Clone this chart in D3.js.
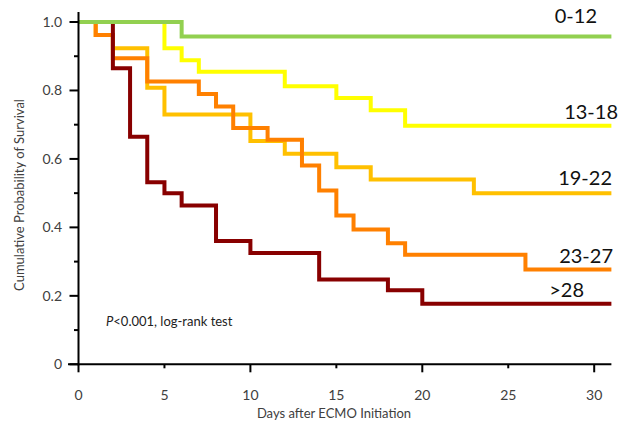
<!DOCTYPE html>
<html>
<head>
<meta charset="utf-8">
<script src="https://cdn.jsdelivr.net/npm/d3@7"></script>
<style>
  body { margin: 0; background: #fff; }
  text { font-family: Lato, "Open Sans", sans-serif; }
</style>
</head>
<body>
<script>
// survival curves (day of each step, survival after step)
var groups = ['0-12', '13-18', '19-22', '23-27', '>28'];
var colors = ['#92d050', '#ffff00', '#ffc000', '#ff8000', '#880000'];

var days0_12 = [0, 6];
var surv0_12 = [1, 0.958];

var days13_18 = [0, 5, 6, 7, 12, 15, 17, 19];
var surv13_18 = [1, 0.923, 0.888, 0.855, 0.8125, 0.778, 0.742, 0.697];

var days19_22 = [0, 1, 2, 4, 5, 10, 12, 15, 17, 23];
var surv19_22 = [1, 0.962, 0.923, 0.808, 0.730, 0.652, 0.615, 0.576, 0.540, 0.500];

var days23_27 = [0, 1, 2, 4, 7, 8, 9, 11, 13, 14, 15, 16, 18, 19, 26];
var surv23_27 = [1, 0.962, 0.894, 0.826, 0.790, 0.753, 0.690, 0.656, 0.581, 0.508, 0.435, 0.394, 0.354, 0.320, 0.277];

var days28 = [0, 2, 3, 4, 5, 6, 8, 10, 14, 18, 20];
var surv28 = [1, 0.865, 0.665, 0.532, 0.500, 0.464, 0.360, 0.325, 0.248, 0.216, 0.177];

var xTicks = [0, 5, 10, 15, 20, 25, 30];
var yTicks = [0, 0.2, 0.4, 0.6, 0.8, 1.0];
var yTickLabels = ['0', '0.2', '0.4', '0.6', '0.8', '1.0'];
var maxDay = 31;

var days = [days0_12, days13_18, days19_22, days23_27, days28];
var survs = [surv0_12, surv13_18, surv19_22, surv23_27, surv28];

var w = 621, h = 423;

var x = d3.scaleLinear().domain([0, maxDay]).range([78.5, 78.5 + maxDay * 17.19]);
var y = d3.scaleLinear().domain([0, 1]).range([364.3, 22]);

var svg = d3.select("body").append("svg")
    .attr("width", w)
    .attr("height", h);

// curves
var line = d3.line()
    .curve(d3.curveStepAfter)
    .x(function(d) { return x(d[0]); })
    .y(function(d) { return y(d[1]); });

var series = groups.map(function(g, i) {
  var pts = days[i].map(function(d, j) { return [d, survs[i][j]]; });
  pts.push([maxDay, survs[i][survs[i].length - 1]]);
  return {key: g, color: colors[i], pts: pts};
});

// draw order: green last so it sits on top
var order = [1, 2, 3, 4, 0];
svg.selectAll(".curve")
    .data(order.map(function(i) { return series[i]; }))
    .enter()
    .append("path")
    .attr("class", "curve")
    .attr("d", function(d) { return line(d.pts); })
    .attr("fill", "none")
    .attr("stroke", function(d) { return d.color; })
    .attr("stroke-width", 4)
    .attr("stroke-linejoin", "miter");

// axes lines
svg.append("line")
    .attr("x1", x(0)).attr("x2", x(0))
    .attr("y1", 12).attr("y2", y(0) + 1)
    .attr("stroke", "#000").attr("stroke-width", 2);
svg.append("line")
    .attr("x1", 68).attr("x2", x(maxDay))
    .attr("y1", y(0)).attr("y2", y(0))
    .attr("stroke", "#000").attr("stroke-width", 2);

// y ticks
var yMinor = d3.range(1, 10, 2).map(function(d) { return d / 10; });
svg.selectAll(".ytick")
    .data(yTicks.concat(yMinor))
    .enter()
    .append("line")
    .attr("x1", function(d) { return yTicks.indexOf(d) >= 0 ? x(0) - 9 : x(0) - 4.5; })
    .attr("x2", x(0))
    .attr("y1", function(d) { return y(d); })
    .attr("y2", function(d) { return y(d); })
    .attr("stroke", "#000").attr("stroke-width", 2);

svg.selectAll(".ylab")
    .data(yTicks)
    .enter()
    .append("text")
    .attr("x", 62)
    .attr("y", function(d) { return y(d); })
    .attr("dy", "0.35em")
    .attr("text-anchor", "end")
    .attr("font-size", 14)
    .attr("fill", "#404040")
    .text(function(d, i) { return yTickLabels[i]; });

// x ticks
svg.selectAll(".xtick")
    .data(xTicks)
    .enter()
    .append("line")
    .attr("x1", function(d) { return x(d); })
    .attr("x2", function(d) { return x(d); })
    .attr("y1", y(0))
    .attr("y2", function(d) { return d % 10 === 0 ? y(0) + 8 : y(0) + 4; })
    .attr("stroke", "#000").attr("stroke-width", 2);

svg.selectAll(".xlab")
    .data(xTicks)
    .enter()
    .append("text")
    .attr("x", function(d) { return x(d); })
    .attr("y", 400)
    .attr("text-anchor", "middle")
    .attr("font-size", 14)
    .attr("fill", "#404040")
    .text(function(d) { return d; });

// axis titles
svg.append("text")
    .attr("transform", "translate(24,195) rotate(-90)")
    .attr("text-anchor", "middle")
    .attr("font-size", 13)
    .attr("fill", "#404040")
    .text("Cumulative Probability of Survival");

svg.append("text")
    .attr("x", 334)
    .attr("y", 418)
    .attr("text-anchor", "middle")
    .attr("font-size", 13)
    .attr("fill", "#404040")
    .text("Days after ECMO Initiation");

// p-value note
var note = svg.append("text")
    .attr("x", 106)
    .attr("y", 326)
    .attr("font-size", 13)
    .attr("fill", "#222");
note.append("tspan").attr("font-style", "italic").text("P");
note.append("tspan").text("<0.001, log-rank test");

// group labels
var labelPos = [
  {x: 597, y: 23},
  {x: 618, y: 119},
  {x: 612, y: 185},
  {x: 613, y: 263},
  {x: 584, y: 297}
];
svg.selectAll(".glab")
    .data(groups)
    .enter()
    .append("text")
    .attr("x", function(d, i) { return labelPos[i].x; })
    .attr("y", function(d, i) { return labelPos[i].y; })
    .attr("text-anchor", "end")
    .attr("font-size", 20)
    .attr("fill", "#111")
    .text(function(d) { return d; });
</script>
</body>
</html>
